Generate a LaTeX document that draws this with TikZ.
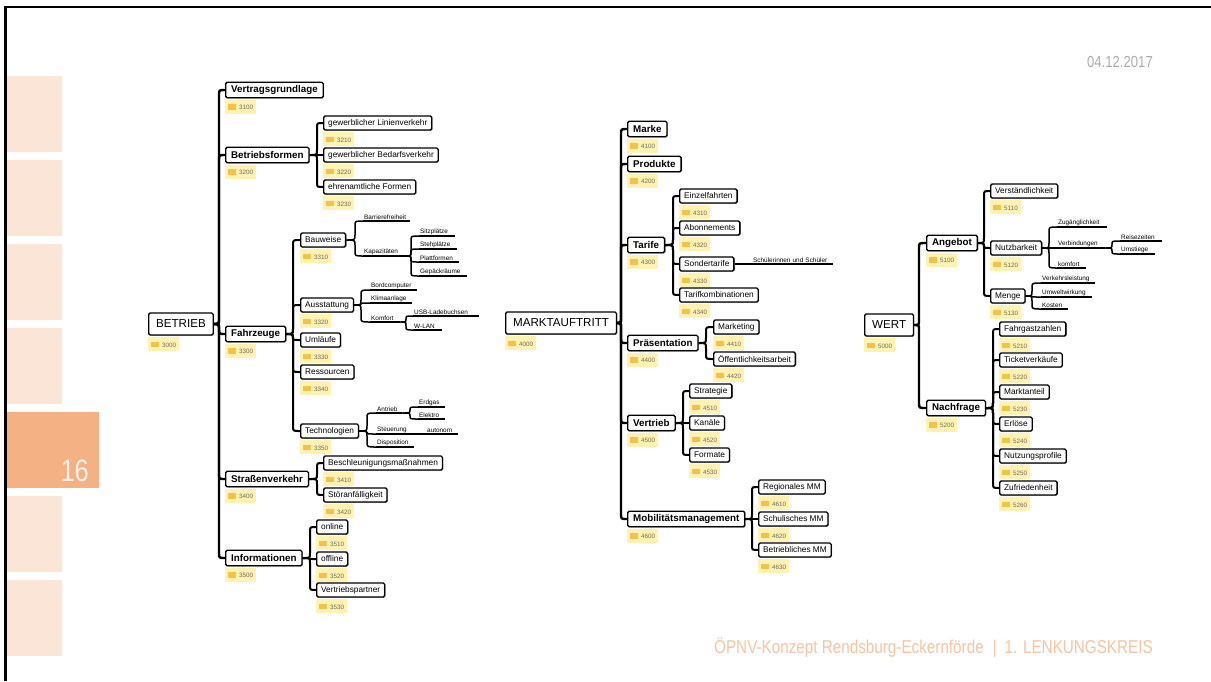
\documentclass[tikz,border=0pt]{standalone}
\usepackage{fontspec}
\setmainfont{Liberation Sans}
\newfontfamily\narrowfont[FakeStretch=0.82]{Liberation Sans}
\usetikzlibrary{calc,shadows}
\definecolor{peach}{HTML}{FBE5D6}
\definecolor{orangeacc}{HTML}{F4B183}
\definecolor{foot}{HTML}{F5C4A2}
\definecolor{dategray}{HTML}{ABABAB}
\definecolor{tagbg}{HTML}{FFF2B3}
\definecolor{tagicon}{HTML}{F3C24A}
\definecolor{tagtext}{HTML}{6E6A5A}
\tikzset{
 mmbase/.style={draw=black, line width=1.3pt, fill=white, rounded corners=1.5pt,
   drop shadow={shadow xshift=0.9pt, shadow yshift=-0.9pt, fill=black!45, opacity=0.7}},
 rootbox/.style={mmbase, font=\fontsize{11.6}{13}\selectfont, inner xsep=7.5pt, inner ysep=0pt, minimum height=22pt},
 boldbox/.style={mmbase, font=\fontsize{9.8}{11}\selectfont\bfseries, inner xsep=5.5pt, inner ysep=0pt, minimum height=15.5pt},
 regbox/.style={mmbase, font=\fontsize{8.3}{10}\selectfont, inner xsep=4.5pt, inner ysep=0pt, minimum height=14pt},
 tagn/.style={fill=tagbg, font=\fontsize{6.3}{7}\selectfont, text=tagtext, inner xsep=3pt, inner ysep=0pt, minimum height=14pt},
 ultxt/.style={font=\fontsize{6.4}{7}\selectfont, inner xsep=1pt, inner ysep=1.2pt, align=left},
 ulline/.style={line width=1.2pt, black},
 c1/.style={line width=2.4pt},
 c2/.style={line width=2pt},
 c3/.style={line width=1.5pt},
}
\newcommand\mmtopic[6]{%
 \node[#1, anchor=west] (#2) at (#3,#4) {#5};
 \node[tagn, anchor=north west] (#2t) at ([yshift=-1.5pt]#2.south west) {\textcolor{tagicon}{\rule{8pt}{5.5pt}}\hspace{3pt}#6};}
\newcommand\ulnode[5]{%
 \node[ultxt, anchor=south west, text width=#4pt] (#1) at (#2,#3) {#5};
 \draw[ulline] (#1.south west) -- (#1.south east);}
\newcommand\mmconn[4][c2]{%
 \draw[#1] let \p1=(#2), \p2=(#3),
   \n1={\y1+max(-5,min(5,(\y2-\y1)/2))},
   \n2={\y2-max(-5,min(5,(\y2-\y1)/2))} in
   (\p1) .. controls (#4pt,\y1) .. (#4pt,\n1) -- (#4pt,\n2) .. controls (#4pt,\y2) .. (\p2);}
\begin{document}
\begin{tikzpicture}[x=1pt,y=-1pt]
\useasboundingbox (0,0) rectangle (1211,681);
% side panel
\foreach \yy in {76,160,244,328,496,580} {\fill[peach] (7,\yy) rectangle (62,\yy+76);}
\fill[orangeacc] (5,412) rectangle (99,488);
\node[anchor=base east, inner sep=0pt, font={\narrowfont\fontsize{31}{31}\selectfont}, text=peach!50!white] (pg) at (89,481) {16};
\draw[line width=2.5pt] (5.5,681) -- (5.5,7) -- (1211,7);
\node[anchor=base east, inner sep=0pt, font={\narrowfont\fontsize{16}{16}\selectfont}, text=dategray] (date) at (1153,67) {04.12.2017};
\node[anchor=base east, inner sep=0pt, font={\narrowfont\fontsize{18.6}{19}\selectfont}, text=foot] (footer) at (1153,653) {ÖPNV-Konzept Rendsburg-Eckernförde\hspace{9pt}|\hspace{8pt}1. LENKUNGSKREIS};

% ===== BETRIEB =====
\mmtopic{rootbox}{betrieb}{148}{324}{BETRIEB}{3000}
\mmtopic{boldbox}{vg}{225}{90}{Vertragsgrundlage}{3100}
\mmtopic{boldbox}{bf}{225}{155}{Betriebsformen}{3200}
\mmtopic{regbox}{glv}{323}{123}{gewerblicher Linienverkehr}{3210}
\mmtopic{regbox}{gbv}{323}{155}{gewerblicher Bedarfsverkehr}{3220}
\mmtopic{regbox}{ehr}{323}{187}{ehrenamtliche Formen}{3230}
\mmtopic{boldbox}{fz}{225}{334}{Fahrzeuge}{3300}
\mmtopic{regbox}{bau}{300}{240}{Bauweise}{3310}
\mmtopic{regbox}{aus}{300}{305}{Ausstattung}{3320}
\mmtopic{regbox}{uml}{300}{340}{Umläufe}{3330}
\mmtopic{regbox}{res}{300}{372}{Ressourcen}{3340}
\mmtopic{regbox}{tech}{300}{431}{Technologien}{3350}
\mmtopic{boldbox}{sv}{225}{479}{Straßenverkehr}{3400}
\mmtopic{regbox}{besch}{323}{463}{Beschleunigungsmaßnahmen}{3410}
\mmtopic{regbox}{stoer}{323}{495}{Störanfälligkeit}{3420}
\mmtopic{boldbox}{inf}{225}{558}{Informationen}{3500}
\mmtopic{regbox}{onl}{316}{527}{online}{3510}
\mmtopic{regbox}{offl}{316}{559}{offline}{3520}
\mmtopic{regbox}{vp}{316}{590}{Vertriebspartner}{3530}
\ulnode{barr}{363}{221}{45}{Barrierefreiheit}
\ulnode{kap}{363}{256}{40}{Kapazitäten}
\ulnode{sitz}{419}{236}{34}{Sitzplätze}
\ulnode{steh}{419}{249}{36}{Stehplätze}
\ulnode{platt}{419}{262}{38}{Plattformen}
\ulnode{gep}{419}{276}{46}{Gepäckräume}
\ulnode{bord}{370}{290}{45}{Bordcomputer}
\ulnode{klima}{370}{303}{40}{Klimaanlage}
\ulnode{komf}{370}{322}{28}{Komfort}
\ulnode{usb}{413}{316}{64}{USB-Ladebuchsen}
\ulnode{wlan}{413}{330}{27}{W-LAN}
\ulnode{antr}{376}{413}{24}{Antrieb}
\ulnode{erd}{418}{407}{25}{Erdgas}
\ulnode{elek}{418}{419}{25}{Elektro}
\ulnode{steu}{376}{434}{35}{Steuerung}
\ulnode{auton}{423}{434}{33}{\hspace{3pt}autonom}
\ulnode{disp}{376}{447}{36}{Disposition}

\foreach \c in {vg,bf,fz,sv,inf} {\mmconn[c1]{betrieb.east}{\c.west}{219}}
\foreach \c in {glv,gbv,ehr} {\mmconn{bf.east}{\c.west}{317}}
\foreach \c in {bau,aus,uml,res,tech} {\mmconn{fz.east}{\c.west}{293}}
\foreach \c in {barr,kap} {\mmconn[c3]{bau.east}{\c.south west}{355}}
\foreach \c in {sitz,steh,platt,gep} {\mmconn[c3]{kap.south east}{\c.south west}{411}}
\foreach \c in {bord,klima,komf} {\mmconn[c3]{aus.east}{\c.south west}{361}}
\foreach \c in {usb,wlan} {\mmconn[c3]{komf.south east}{\c.south west}{406}}
\foreach \c in {antr,steu,disp} {\mmconn[c3]{tech.east}{\c.south west}{367}}
\foreach \c in {erd,elek} {\mmconn[c3]{antr.south east}{\c.south west}{410}}
\draw[line width=1.8pt] (steu.south east) -- (auton.south west);
\foreach \c in {besch,stoer} {\mmconn{sv.east}{\c.west}{317}}
\foreach \c in {onl,offl,vp} {\mmconn{inf.east}{\c.west}{310}}

% ===== MARKTAUFTRITT =====
\mmtopic{rootbox}{mkt}{505}{323}{MARKTAUFTRITT}{4000}
\mmtopic{boldbox}{marke}{627}{129}{Marke}{4100}
\mmtopic{boldbox}{prod}{627}{164}{Produkte}{4200}
\mmtopic{boldbox}{tarife}{627}{245}{Tarife}{4300}
\mmtopic{regbox}{einz}{679}{196}{Einzelfahrten}{4310}
\mmtopic{regbox}{abo}{679}{228}{Abonnements}{4320}
\mmtopic{regbox}{sond}{679}{264}{Sondertarife}{4330}
\mmtopic{regbox}{tk}{679}{295}{Tarifkombinationen}{4340}
\mmtopic{boldbox}{praes}{627}{343}{Präsentation}{4400}
\mmtopic{regbox}{mark}{713}{327}{Marketing}{4410}
\mmtopic{regbox}{oeff}{713}{359}{Öffentlichkeitsarbeit}{4420}
\mmtopic{boldbox}{vert}{627}{423}{Vertrieb}{4500}
\mmtopic{regbox}{strat}{689}{391}{Strategie}{4510}
\mmtopic{regbox}{kan}{689}{423}{Kanäle}{4520}
\mmtopic{regbox}{form}{689}{455}{Formate}{4530}
\mmtopic{boldbox}{mob}{627}{519}{Mobilitätsmanagement}{4600}
\mmtopic{regbox}{reg}{758}{487}{Regionales MM}{4610}
\mmtopic{regbox}{schul}{758}{519}{Schulisches MM}{4620}
\mmtopic{regbox}{betr}{758}{550}{Betriebliches MM}{4630}
\ulnode{schue}{752}{264}{79}{Schülerinnen und Schüler}
\foreach \c in {marke,prod,tarife,praes,vert,mob} {\mmconn[c1]{mkt.east}{\c.west}{621}}
\foreach \c in {einz,abo,sond,tk} {\mmconn{tarife.east}{\c.west}{673}}
\draw[line width=1.8pt] (sond.east) -- (schue.south west);
\foreach \c in {mark,oeff} {\mmconn{praes.east}{\c.west}{706}}
\foreach \c in {strat,kan,form} {\mmconn{vert.east}{\c.west}{683}}
\foreach \c in {reg,schul,betr} {\mmconn{mob.east}{\c.west}{752}}

% ===== WERT =====
\mmtopic{rootbox}{wert}{864}{325}{WERT}{5000}
\mmtopic{boldbox}{ang}{926}{243}{Angebot}{5100}
\mmtopic{regbox}{verst}{990}{191}{Verständlichkeit}{5110}
\mmtopic{regbox}{nutz}{990}{248}{Nutzbarkeit}{5120}
\mmtopic{regbox}{menge}{990}{296}{Menge}{5130}
\mmtopic{boldbox}{nach}{926}{408}{Nachfrage}{5200}
\mmtopic{regbox}{fgz}{999}{329}{Fahrgastzahlen}{5210}
\mmtopic{regbox}{tick}{999}{360}{Ticketverkäufe}{5220}
\mmtopic{regbox}{mant}{999}{392}{Marktanteil}{5230}
\mmtopic{regbox}{erl}{999}{424}{Erlöse}{5240}
\mmtopic{regbox}{nutzp}{999}{456}{Nutzungsprofile}{5250}
\mmtopic{regbox}{zuf}{999}{488}{Zufriedenheit}{5260}
\ulnode{zug}{1057}{227}{48}{Zugänglichkeit}
\ulnode{verb}{1057}{248}{46}{Verbindungen}
\ulnode{reise}{1120}{241}{40}{Reisezeiten}
\ulnode{umst}{1120}{254}{33}{Umstiege}
\ulnode{komf2}{1057}{268}{27}{komfort}
\ulnode{verk}{1041}{283}{52}{Verkehrsleistung}
\ulnode{umw}{1041}{297}{49}{Umweltwirkung}
\ulnode{kost}{1041}{309}{25}{Kosten}
\foreach \c in {ang,nach} {\mmconn[c1]{wert.east}{\c.west}{919}}
\foreach \c in {verst,nutz,menge} {\mmconn{ang.east}{\c.west}{984}}
\foreach \c in {zug,verb,komf2} {\mmconn[c3]{nutz.east}{\c.south west}{1049}}
\foreach \c in {reise,umst} {\mmconn[c3]{verb.south east}{\c.south west}{1112}}
\foreach \c in {verk,umw,kost} {\mmconn[c3]{menge.east}{\c.south west}{1032}}
\foreach \c in {fgz,tick,mant,erl,nutzp,zuf} {\mmconn{nach.east}{\c.west}{993}}
\end{tikzpicture}
\end{document}
